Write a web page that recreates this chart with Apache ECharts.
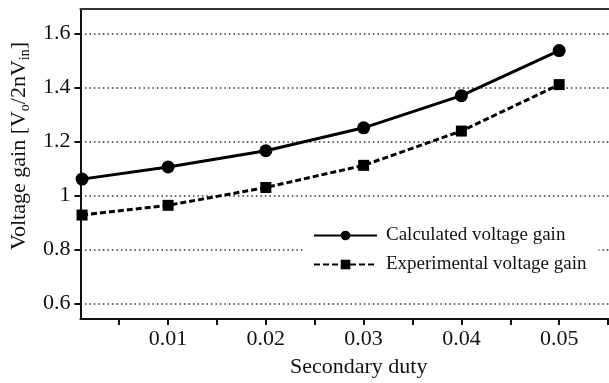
<!DOCTYPE html>
<html>
<head>
<meta charset="utf-8">
<script src="https://cdn.jsdelivr.net/npm/echarts@6/dist/echarts.min.js"></script>
<style>html,body{margin:0;padding:0;background:#fff;}#c{width:609px;height:383px;}</style>
</head>
<body>
<div id="c"></div>
<script>
const xValues = [0.0012, 0.01, 0.02, 0.03, 0.04, 0.05];
const calculated = [1.06, 1.105, 1.165, 1.25, 1.369, 1.536];
const experimental = [0.927, 0.963, 1.029, 1.111, 1.238, 1.41];
const xTickValues = [0.005, 0.01, 0.015, 0.02, 0.025, 0.03, 0.035, 0.04, 0.045, 0.05, 0.055];
const xLabelValues = [0.01, 0.02, 0.03, 0.04, 0.05];
const yTickValues = [0.6, 0.8, 1.0, 1.2, 1.4, 1.6];
const seriesNames = ['Calculated voltage gain', 'Experimental voltage gain'];

const FONT = 'Liberation Serif';
const chart = echarts.init(document.getElementById('c'));
const pair = (ys) => xValues.map((x, i) => [x, ys[i]]);

chart.setOption({
  animation: false,
  backgroundColor: '#fff',
  grid: { left: 77, top: 9, right: 0, bottom: 63, containLabel: false },
  legend: {
    orient: 'vertical',
    left: 305, top: 222,
    backgroundColor: '#fff',
    padding: [4, 12, 4, 8],
    itemWidth: 63, itemHeight: 12, itemGap: 10,
    textStyle: { fontFamily: FONT, fontSize: 19, color: '#111', padding: [0, 0, 0, 4] },
    data: seriesNames
  },
  xAxis: [{
    type: 'value',
    min: 0.00103, max: 0.0551,
    name: 'Secondary duty',
    nameLocation: 'middle',
    nameGap: 37,
    nameTextStyle: { fontFamily: FONT, fontSize: 22, color: '#111', padding: [0, 0, 0, 28] },
    axisLine: { show: true, lineStyle: { color: '#111', width: 2 } },
    axisTick: { show: true, inside: false, length: 6, customValues: xTickValues, lineStyle: { color: '#111', width: 2 } },
    axisLabel: { customValues: xLabelValues, margin: 9, fontFamily: FONT, fontSize: 22, color: '#111',
      formatter: v => (+v).toFixed(2) },
    splitLine: { show: false }
  }, {
    type: 'value', position: 'top',
    min: 0.00103, max: 0.0551,
    axisLine: { show: true, lineStyle: { color: '#333', width: 2 } },
    axisTick: { show: false }, axisLabel: { show: false }, splitLine: { show: false }
  }],
  yAxis: {
    type: 'value',
    min: 0.542, max: 1.69,
    name: '{a|Voltage gain [V}{s|o}{a|/2nV}{s|in}{a|]}',
    nameLocation: 'middle',
    nameRotate: 90,
    nameGap: 46,
    nameTextStyle: {
      fontFamily: FONT, fontSize: 22, color: '#111', padding: [0, 0, 0, 36],
      rich: {
        a: { fontFamily: FONT, fontSize: 22, color: '#111', lineHeight: 26 },
        s: { fontFamily: FONT, fontSize: 14, color: '#111', lineHeight: 14, verticalAlign: 'bottom' }
      }
    },
    axisLine: { show: true, lineStyle: { color: '#111', width: 2 } },
    axisTick: { show: true, inside: false, length: 6, customValues: yTickValues, lineStyle: { color: '#111', width: 2 } },
    axisLabel: { customValues: yTickValues, margin: 10, fontFamily: FONT, fontSize: 22, color: '#111',
      formatter: v => String(+(+v).toFixed(2)) },
    splitLine: { show: true, lineStyle: { color: '#333', width: 1.5, type: [1.5, 3] } }
  },
  series: [{
    name: seriesNames[0],
    type: 'line',
    data: pair(calculated),
    symbol: 'circle', symbolSize: 13,
    lineStyle: { color: '#000', width: 3, type: 'solid' },
    itemStyle: { color: '#000' },
    z: 3
  }, {
    name: seriesNames[1],
    type: 'line',
    data: pair(experimental),
    symbol: 'rect', symbolSize: 11,
    lineStyle: { color: '#000', width: 3, type: [6, 3] },
    itemStyle: { color: '#000' },
    z: 3
  }]
});
</script>
</body>
</html>
